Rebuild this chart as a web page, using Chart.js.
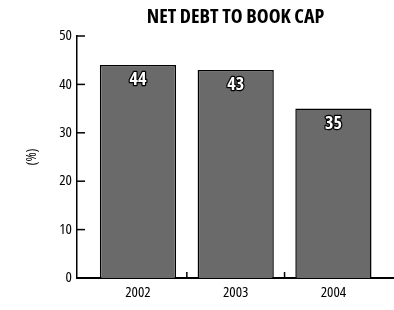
<!DOCTYPE html>
<html>
<head>
<meta charset="utf-8">
<script src="https://cdn.jsdelivr.net/npm/chart.js@4"></script>
<style>
  body { margin: 0; background: #fff; }
  #wrap { width: 394px; height: 310px; }
</style>
</head>
<body>
<div id="wrap"><canvas id="chart"></canvas></div>
<script>
// chart data
const years = ["2002", "2003", "2004"];
const debtPct = [44, 43, 35];
const yTicks = [0, 10, 20, 30, 40, 50];
const chartTitle = "NET DEBT TO BOOK CAP";

const FONT = "'Open Sans', 'DejaVu Sans', sans-serif";
// chart.js only checks "style", so the stretch keyword rides in "weight"
const COND = "condensed";

// title over the plot area, inside tick marks and value labels
const extras = {
  id: "extras",
  afterDraw(chart) {
    const ctx = chart.ctx;
    const x = chart.scales.x, y = chart.scales.y;
    const area = chart.chartArea;
    ctx.save();
    ctx.fillStyle = "#000";
    ctx.font = "condensed bold 20px " + FONT;
    ctx.textAlign = "center";
    ctx.textBaseline = "middle";
    ctx.fillText(chartTitle, (area.left + area.right) / 2, 17);

    ctx.strokeStyle = "#000";
    ctx.lineWidth = 1.5;
    y.ticks.forEach(t => {
      const py = y.getPixelForValue(t.value);
      ctx.beginPath();
      ctx.moveTo(area.left, py);
      ctx.lineTo(area.left + 8, py);
      ctx.stroke();
    });
    x.ticks.forEach(t => {
      if (Number.isInteger(t.value)) return;
      const px = x.getPixelForValue(t.value);
      ctx.beginPath();
      ctx.moveTo(px, area.bottom);
      ctx.lineTo(px, area.bottom - 6);
      ctx.stroke();
    });

    const meta = chart.getDatasetMeta(0);
    ctx.font = "condensed bold 18px " + FONT;
    ctx.lineWidth = 2.5;
    ctx.lineJoin = "round";
    meta.data.forEach((bar, i) => {
      ctx.strokeStyle = "#000";
      ctx.strokeText(debtPct[i], bar.x, bar.y + 15);
      ctx.fillStyle = "#fff";
      ctx.fillText(debtPct[i], bar.x, bar.y + 15);
    });
    ctx.restore();
  }
};

new Chart(document.getElementById("chart"), {
  type: "bar",
  data: {
    datasets: [{
      data: debtPct.map((v, i) => ({ x: i + 1, y: v })),
      backgroundColor: "#6a6a6a",
      borderColor: "#000",
      borderWidth: 1.5,
      // half-step ticks halve the ruler's spacing, hence > 1
      barPercentage: 1.56,
      categoryPercentage: 1
    }]
  },
  options: {
    responsive: true,
    maintainAspectRatio: false,
    animation: false,
    layout: { padding: { left: 0, right: 0, top: 36, bottom: 0 } },
    plugins: {
      legend: { display: false },
      tooltip: { enabled: false },
      title: { display: false }
    },
    scales: {
      x: {
        type: "linear",
        offset: false,
        min: 0.376,
        max: 3.62,
        afterBuildTicks: s => { s.ticks = [1, 1.5, 2, 2.5, 3].map(v => ({ value: v })); },
        afterFit: s => { s.height = 32; },
        grid: { display: false, drawTicks: false },
        border: { display: true, color: "#000", width: 2 },
        ticks: {
          autoSkip: false,
          maxRotation: 0,
          padding: 6,
          color: "#000",
          font: { family: FONT, size: 15, weight: COND },
          callback: v => Number.isInteger(v) ? years[v - 1] : ""
        }
      },
      y: {
        min: 0,
        max: 50,
        afterBuildTicks: s => { s.ticks = yTicks.map(v => ({ value: v })); },
        afterFit: s => { s.width = 77; },
        grid: { display: false, drawTicks: false },
        border: { display: true, color: "#000", width: 1.5 },
        title: {
          display: true,
          text: "(%)",
          color: "#000",
          font: { family: FONT, size: 14, weight: COND },
          padding: { top: 24, bottom: 0 }
        },
        ticks: {
          padding: 5,
          color: "#000",
          font: { family: FONT, size: 15, weight: COND }
        }
      }
    }
  },
  plugins: [extras]
});
</script>
</body>
</html>
